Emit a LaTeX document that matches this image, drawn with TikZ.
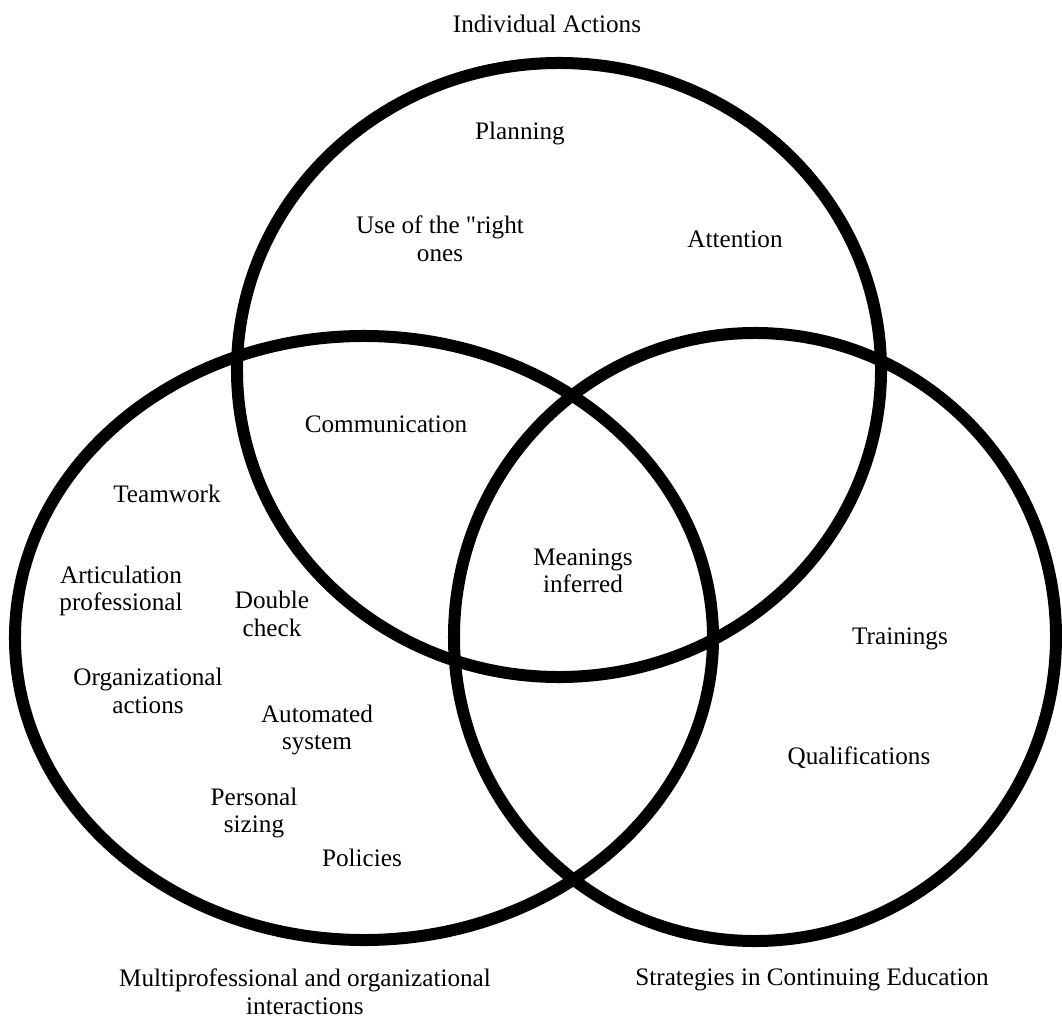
\documentclass[tikz,border=0pt]{standalone}
\usepackage{fontspec}
\setmainfont{Liberation Serif}[Ligatures=TeXOff]
\usetikzlibrary{shapes,positioning}

\begin{document}
\begin{tikzpicture}[x=0.03cm, y=-0.03cm,
    venn/.style={ellipse, draw, line width=0.36cm, inner sep=0pt},
    lbl/.style={align=center, inner sep=0pt},
    font=\fontsize{21.5}{23.5}\selectfont]
    \useasboundingbox (0,0) rectangle (1062,1019);

    % the three sets
    \node[venn, minimum width=19.32cm, minimum height=18.42cm] (ind) at (559,370) {};
    \node[venn, minimum width=20.94cm, minimum height=18.12cm] (org) at (364,638) {};
    \node[venn, minimum width=18.06cm, minimum height=18.24cm] (edu) at (755,637) {};

    % set titles
    \node[lbl] (tind) at (547,24) {Individual Actions};
    \node[lbl] (torg) at (305,992) {Multiprofessional and organizational\\interactions};
    \node[lbl] (tedu) at (812,979) {Strategies in Continuing Education};

    % individual actions
    \node[lbl] (plan) at (520,133) {Planning};
    \node[lbl] (use) at (440,239) {Use of the "right\\ones};
    \node[lbl] (att) at (735,239) {Attention};

    % overlaps
    \node[lbl] (comm) at (386,424) {Communication};
    \node[lbl] (mean) at (583,571) {Meanings\\inferred};

    % organizational interactions
    \node[lbl] (team) at (167,494) {Teamwork};
    \node[lbl] (artic) at (121,591) {Articulation\\professional};
    \node[lbl] (dbl) at (272,614) {Double\\check};
    \node[lbl] (orga) at (148,691) {Organizational\\actions};
    \node[lbl] (auto) at (317,730) {Automated\\system};
    \node[lbl] (pers) at (254,813) {Personal\\sizing};
    \node[lbl] (pol) at (362,858) {Policies};

    % continuing education
    \node[lbl] (train) at (900,639) {Trainings};
    \node[lbl] (qual) at (859,758) {Qualifications};
\end{tikzpicture}
\end{document}
